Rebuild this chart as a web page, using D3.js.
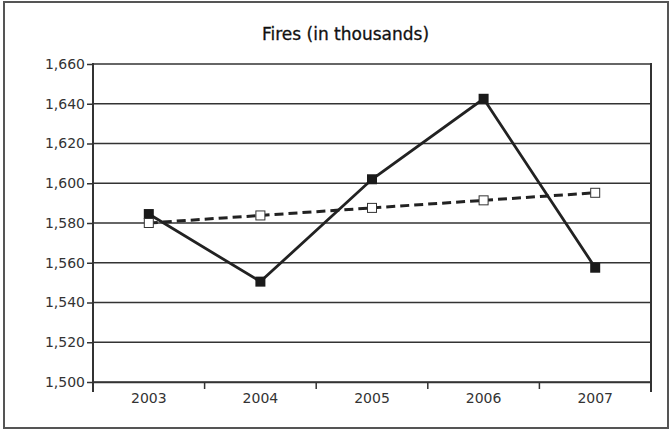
<!DOCTYPE html>
<html>
<head>
<meta charset="utf-8">
<script src="https://cdn.jsdelivr.net/npm/d3@7"></script>
<style>
  html, body { margin: 0; padding: 0; background: #fff; }
  svg { display: block; }
  text { font-family: "DejaVu Sans", sans-serif; fill: #333; }
</style>
</head>
<body>
<script>
// ---- data ----
const years = ["2003", "2004", "2005", "2006", "2007"];
const actual = [1584.5, 1550.5, 1602, 1642.5, 1557.5];
const trend = [1580, 1583.8, 1587.6, 1591.4, 1595.2];
const yTicks = [1500, 1520, 1540, 1560, 1580, 1600, 1620, 1640, 1660];
const title = "Fires (in thousands)";

const W = 671, H = 430;

const svg = d3.select("body").append("svg").attr("width", W).attr("height", H);

// outer frame
svg.append("rect").attr("x", 4).attr("y", 2).attr("width", 664).attr("height", 426)
  .attr("fill", "#fff").attr("stroke", "#555").attr("stroke-width", 2);

const x = d3.scaleBand().domain(years).range([93, 651]).padding(0);
const y = d3.scaleLinear().domain([1500, 1660]).range([382, 64]);

// title
svg.append("text").attr("x", 345.5).attr("y", 40).attr("text-anchor", "middle")
  .style("font-size", "17px").style("fill", "#111")
  .style("stroke", "#111").style("stroke-width", 0.3).text(title);

// gridlines
svg.append("g").selectAll("line").data(yTicks).join("line")
  .attr("x1", 93).attr("x2", 651).attr("y1", d => y(d)).attr("y2", d => y(d))
  .attr("stroke", "#333").attr("stroke-width", 1.5);

// y axis
const yAxis = svg.append("g").attr("transform", "translate(93,0)")
  .call(d3.axisLeft(y).tickValues(yTicks).tickFormat(d3.format(",")).tickSize(6).tickPadding(2));
yAxis.select(".domain").remove();
yAxis.selectAll(".tick line").attr("stroke", "#333").attr("stroke-width", 1.5);
yAxis.selectAll("text").style("font-size", "14px").style("fill", "#333");

// vertical frame lines of plot (left & right) and category boundary ticks
const bounds = years.map(d => x(d)).concat([x.range()[1]]);
svg.append("g").selectAll("line").data(bounds).join("line")
  .attr("x1", d => d).attr("x2", d => d)
  .attr("y1", (d, i) => (i === 0 || i === bounds.length - 1) ? 63 : 382)
  .attr("y2", (d, i) => (i === 0 || i === bounds.length - 1) ? 392 : 389)
  .attr("stroke", "#333").attr("stroke-width", (d, i) => (i === 0 || i === bounds.length - 1) ? 2 : 1.5);

// x axis labels
const xAxis = svg.append("g").attr("transform", "translate(0,382)")
  .call(d3.axisBottom(x).tickSize(0).tickPadding(11));
xAxis.select(".domain").attr("stroke", "#333").attr("stroke-width", 1.5);
xAxis.selectAll("text").style("font-size", "14px").style("fill", "#333");

const cx = d => x(d) + x.bandwidth() / 2;
const line = d3.line().x((d, i) => cx(years[i])).y(d => y(d));

// actual series
svg.append("path").datum(actual).attr("d", line)
  .attr("fill", "none").attr("stroke", "#222").attr("stroke-width", 2.8);

// trend series
svg.append("path").datum(trend).attr("d", line)
  .attr("fill", "none").attr("stroke", "#222").attr("stroke-width", 3)
  .attr("stroke-dasharray", "9,5");

svg.append("g").selectAll("rect").data(actual).join("rect")
  .attr("x", (d, i) => cx(years[i]) - 5).attr("y", d => y(d) - 5)
  .attr("width", 10).attr("height", 10).attr("fill", "#1a1a1a");

svg.append("g").selectAll("rect").data(trend).join("rect")
  .attr("x", (d, i) => cx(years[i]) - 4.5).attr("y", d => y(d) - 4.5)
  .attr("width", 9).attr("height", 9).attr("fill", "#fff")
  .attr("stroke", "#333").attr("stroke-width", 1);
</script>
</body>
</html>
